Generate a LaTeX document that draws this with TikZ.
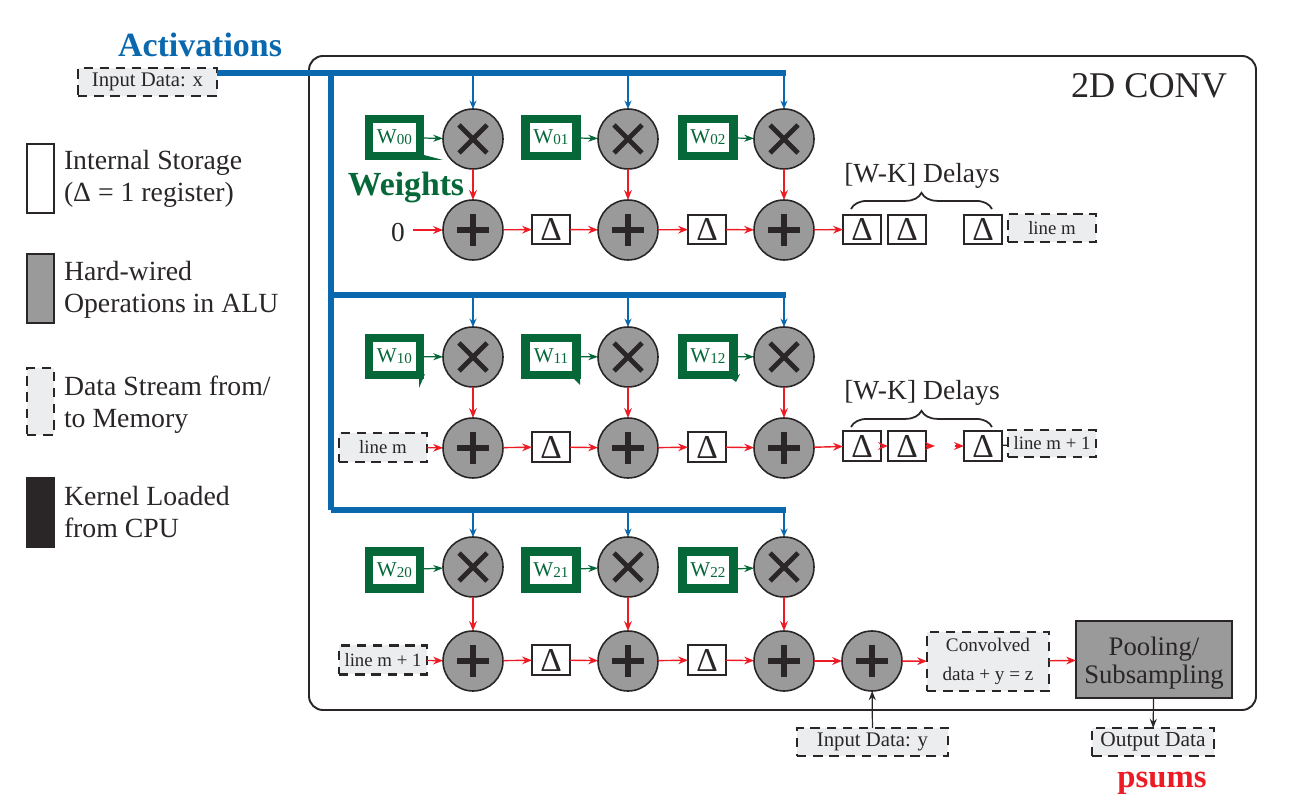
\documentclass[tikz,border=0pt]{standalone}
\usepackage{fontspec}
\setmainfont{Liberation Serif}
\usepackage{xcolor}
\usetikzlibrary{arrows.meta,decorations.pathreplacing}

\definecolor{busblue}{HTML}{0A68AE}
\definecolor{wgreen}{HTML}{066839}
\definecolor{wirered}{HTML}{ED1C24}
\definecolor{inkdark}{HTML}{2A2627}
\definecolor{alugray}{HTML}{9A9A9B}
\definecolor{streamgray}{HTML}{ECEDEF}

\tikzset{
    every node/.style={inner sep=0pt, outer sep=0pt, text=inkdark},
    opnode/.style={circle, draw=inkdark, line width=0.45pt, fill=alugray, minimum size=0.6cm},
    multnode/.style={opnode, path picture={
        \draw[inkdark, line width=1.4pt] ([shift={(-.14,-.14)}]path picture bounding box.center) -- ([shift={(.14,.14)}]path picture bounding box.center);
        \draw[inkdark, line width=1.4pt] ([shift={(-.14,.14)}]path picture bounding box.center) -- ([shift={(.14,-.14)}]path picture bounding box.center);}},
    addnode/.style={opnode, path picture={
        \draw[inkdark, line width=1.5pt] ([xshift=-.16cm]path picture bounding box.center) -- ([xshift=.16cm]path picture bounding box.center);
        \draw[inkdark, line width=1.5pt] ([yshift=-.16cm]path picture bounding box.center) -- ([yshift=.16cm]path picture bounding box.center);}},
    weightbox/.style={draw=wgreen, line width=2.3pt, fill=white, minimum width=0.51cm, minimum height=0.37cm, text=wgreen, font=\fontsize{6}{6}\selectfont},
    regbox/.style={draw=inkdark, line width=0.6pt, fill=white, minimum width=0.38cm, minimum height=0.295cm, font=\fontsize{9.5}{9.5}\selectfont},
    streambox/.style={draw=inkdark, fill=streamgray, line width=0.65pt, dash pattern=on 2.7pt off 1.9pt, font=\fontsize{5.9}{7.4}\selectfont, align=center},
    linefont/.style={font=\fontsize{5.35}{7}\selectfont},
    legendtext/.style={anchor=west, align=left, font=\fontsize{7.9}{9.1}\selectfont},
    bus/.style={busblue, line width=1.45pt},
    busarrow/.style={busblue, line width=0.35pt, -{Stealth[length=2.4pt,width=2pt]}},
    weightarrow/.style={wgreen, line width=0.35pt, -{Stealth[length=2.8pt,width=2pt]}},
    redarrow/.style={wirered, line width=0.4pt, -{Stealth[length=2.8pt,width=2.2pt]}},
    inkarrow/.style={inkdark, line width=0.35pt, -{Stealth[length=2.6pt,width=2pt]}},
    delaybrace/.style={inkdark, line width=0.5pt, decorate, decoration={brace, amplitude=4.6pt}}
}
\newcommand{\wlabel}[2]{W\raisebox{-0.3pt}{\fontsize{4.3}{4.3}\selectfont #1#2}}

\begin{document}
\begin{tikzpicture}
    \useasboundingbox (0,0) rectangle (13.16,8.11);

    % Outer frame
    \draw[inkdark, line width=0.55pt, rounded corners=0.14cm] (3.09,1.01) rectangle (12.56,7.55);
    \node[font=\fontsize{10.3}{10.3}\selectfont] (convtitle) at (11.49,7.25) {2D CONV};

    % Legend
    \node[draw=inkdark, line width=0.5pt, fill=white, minimum width=0.27cm, minimum height=0.69cm] (legstore) at (0.405,6.325) {};
    \node[legendtext] (legstoretext) at (0.64,6.32) {Internal Storage\\(Δ = 1 register)};
    \node[draw=inkdark, line width=0.5pt, fill=alugray, minimum width=0.27cm, minimum height=0.69cm] (legalu) at (0.405,5.225) {};
    \node[legendtext] (legalutext) at (0.64,5.21) {Hard-wired\\Operations in ALU};
    \node[streambox, minimum width=0.27cm, minimum height=0.67cm] (legstream) at (0.405,4.095) {};
    \node[legendtext] (legstreamtext) at (0.64,4.06) {Data Stream from/\\to Memory};
    \node[draw=inkdark, line width=0.5pt, fill=inkdark, minimum width=0.27cm, minimum height=0.69cm] (legkernel) at (0.405,2.985) {};
    \node[legendtext] (legkerneltext) at (0.64,2.99) {Kernel Loaded\\from CPU};

    % Input and activation bus
    \node[text=busblue, font=\bfseries\fontsize{9.65}{9.65}\selectfont] (activations) at (2.00,7.66) {Activations};
    \node[streambox, minimum width=1.39cm, minimum height=0.28cm] (inputx) at (1.475,7.29) {\raisebox{-1pt}{Input Data: x}};
    \coordinate (bustop) at (7.86,7.38);
    \coordinate (trunktop) at (3.31,7.38);
    \coordinate (trunkbot) at (3.31,3.01);
    \coordinate (busmid) at (7.86,5.16);
    \coordinate (busbot) at (7.86,3.01);
    \draw[bus] (inputx.east |- bustop) -- (bustop);
    \draw[bus] (trunktop) -- (trunkbot);
    \draw[bus] (trunkbot |- busmid) -- (busmid);
    \draw[bus] (trunkbot) -- (busbot);

    % First row
    \node[multnode] (m00) at (4.73,6.72) {};
    \node[multnode] (m01) at (6.28,6.72) {};
    \node[multnode] (m02) at (7.84,6.72) {};
    \fill[wgreen] (4.24,6.56) -- (4.43,6.51) -- (4.24,6.51) -- cycle;
    \node[weightbox] (w00) at (3.945,6.735) {\wlabel{0}{0}};
    \node[weightbox] (w01) at (5.51,6.735) {\wlabel{0}{1}};
    \node[weightbox] (w02) at (7.08,6.735) {\wlabel{0}{2}};
    \node[text=wgreen, font=\bfseries\fontsize{9.6}{9.6}\selectfont] (weights) at (4.06,6.23) {Weights};
    \node[font=\fontsize{7.8}{7.8}\selectfont] (zero) at (3.98,5.78) {0};
    \node[addnode] (p00) at (4.73,5.81) {};
    \node[regbox] (r00) at (5.51,5.815) {Δ};
    \node[addnode] (p01) at (6.28,5.81) {};
    \node[regbox] (r01) at (7.07,5.815) {Δ};
    \node[addnode] (p02) at (7.84,5.81) {};
    \node[regbox] (t00) at (8.62,5.815) {Δ};
    \node[regbox] (t01) at (9.07,5.815) {Δ};
    \node[regbox] (t02) at (9.83,5.815) {Δ};
    \node[streambox, linefont, minimum width=0.88cm, minimum height=0.28cm] (linem0) at (10.52,5.83) {line m};
    \node[font=\fontsize{7.85}{7.85}\selectfont] (delays0) at (9.22,6.35) {[W-K] Delays};
    \draw[delaybrace] (8.51,6.02) -- (9.92,6.02);

    \draw[busarrow] (m00 |- bustop) -- (m00);
    \draw[busarrow] (m01 |- bustop) -- (m01);
    \draw[busarrow] (m02 |- bustop) -- (m02);
    \draw[weightarrow] (w00) -- (m00);
    \draw[weightarrow] (w01) -- (m01);
    \draw[weightarrow] (w02) -- (m02);
    \draw[redarrow] (m00) -- (p00);
    \draw[redarrow] (m01) -- (p01);
    \draw[redarrow] (m02) -- (p02);
    \draw[redarrow] ([xshift=.08cm,yshift=.03cm]zero.east) -- (p00);
    \draw[redarrow] (p00) -- (r00);
    \draw[redarrow] (r00) -- (p01);
    \draw[redarrow] (p01) -- (r01);
    \draw[redarrow] (r01) -- (p02);
    \draw[redarrow] (p02) -- (t00);

    % Second row
    \node[multnode] (m10) at (4.73,4.54) {};
    \node[multnode] (m11) at (6.28,4.54) {};
    \node[multnode] (m12) at (7.84,4.54) {};
    \fill[wgreen] (4.19,4.32) -- (4.25,4.37) -- (4.19,4.23) -- cycle;
    \fill[wgreen] (5.74,4.32) -- (5.80,4.26) -- (5.80,4.37) -- cycle;
    \fill[wgreen] (7.32,4.32) -- (7.40,4.37) -- (7.36,4.29) -- cycle;
    \node[weightbox] (w10) at (3.945,4.545) {\wlabel{1}{0}};
    \node[weightbox] (w11) at (5.51,4.545) {\wlabel{1}{1}};
    \node[weightbox] (w12) at (7.08,4.545) {\wlabel{1}{2}};
    \node[streambox, linefont, minimum width=0.88cm, minimum height=0.29cm] (linem1) at (3.83,3.635) {line m};
    \node[addnode] (p10) at (4.73,3.63) {};
    \node[regbox] (r10) at (5.51,3.64) {Δ};
    \node[addnode] (p11) at (6.28,3.63) {};
    \node[regbox] (r11) at (7.07,3.64) {Δ};
    \node[addnode] (p12) at (7.84,3.63) {};
    \node[regbox] (t10) at (8.62,3.65) {Δ};
    \node[regbox] (t11) at (9.07,3.65) {Δ};
    \node[regbox] (t12) at (9.83,3.65) {Δ};
    \node[streambox, linefont, minimum width=0.88cm, minimum height=0.27cm] (linemp0) at (10.52,3.675) {line m + 1};
    \node[font=\fontsize{7.85}{7.85}\selectfont] (delays1) at (9.22,4.18) {[W-K] Delays};
    \draw[delaybrace] (8.51,3.84) -- (9.92,3.84);
    \coordinate (gapleft) at (9.35,3.65);
    \coordinate (gapright) at (9.55,3.65);

    \draw[busarrow] (m10 |- busmid) -- (m10);
    \draw[busarrow] (m11 |- busmid) -- (m11);
    \draw[busarrow] (m12 |- busmid) -- (m12);
    \draw[weightarrow] (w10) -- (m10);
    \draw[weightarrow] (w11) -- (m11);
    \draw[weightarrow] (w12) -- (m12);
    \draw[redarrow] (m10) -- (p10);
    \draw[redarrow] (m11) -- (p11);
    \draw[redarrow] (m12) -- (p12);
    \draw[redarrow] (linem1) -- (p10);
    \draw[redarrow] (p10) -- (r10);
    \draw[redarrow] (r10) -- (p11);
    \draw[redarrow] (p11) -- (r11);
    \draw[redarrow] (r11) -- (p12);
    \draw[redarrow] (p12) -- (t10);
    \draw[redarrow] (t10) -- (t11);
    \draw[redarrow] (t11) -- (gapleft);
    \draw[redarrow] (gapright) -- (t12);
    \draw[inkdark, line width=0.35pt] (t12) -- (linemp0);

    % Third row
    \node[multnode] (m20) at (4.73,2.44) {};
    \node[multnode] (m21) at (6.28,2.44) {};
    \node[multnode] (m22) at (7.84,2.44) {};
    \node[weightbox] (w20) at (3.945,2.41) {\wlabel{2}{0}};
    \node[weightbox] (w21) at (5.51,2.41) {\wlabel{2}{1}};
    \node[weightbox] (w22) at (7.08,2.41) {\wlabel{2}{2}};
    \node[streambox, linefont, minimum width=0.88cm, minimum height=0.29cm] (linemp1) at (3.83,1.51) {line m + 1};
    \node[addnode] (p20) at (4.73,1.50) {};
    \node[regbox] (r20) at (5.51,1.51) {Δ};
    \node[addnode] (p21) at (6.28,1.50) {};
    \node[regbox] (r21) at (7.07,1.51) {Δ};
    \node[addnode] (p22) at (7.84,1.50) {};
    \node[addnode] (p23) at (8.72,1.50) {};
    \node[streambox, font=\fontsize{5.45}{8.2}\selectfont, minimum width=1.22cm, minimum height=0.59cm] (convolved) at (9.88,1.495) {Convolved\\data + y = z};
    \node[draw=inkdark, line width=0.6pt, fill=alugray, minimum width=1.56cm, minimum height=0.77cm, align=center, font=\fontsize{7.6}{8}\selectfont] (pooling) at (11.54,1.515) {\rule{0pt}{7.5pt}Pooling/\\Subsampling};
    \node[streambox, minimum width=1.51cm, minimum height=0.28cm] (inputy) at (8.725,0.69) {Input Data: y};
    \node[streambox, font=\fontsize{6.1}{7.4}\selectfont, minimum width=1.22cm, minimum height=0.28cm] (outdata) at (11.53,0.69) {Output Data};
    \node[text=wirered, font=\bfseries\fontsize{9.3}{9.3}\selectfont] (psums) at (11.62,0.28) {psums};

    \draw[busarrow] (m20 |- busbot) -- (m20);
    \draw[busarrow] (m21 |- busbot) -- (m21);
    \draw[busarrow] (m22 |- busbot) -- (m22);
    \draw[weightarrow] (w20) -- (m20);
    \draw[weightarrow] (w21) -- (m21);
    \draw[weightarrow] (w22) -- (m22);
    \draw[redarrow] (m20) -- (p20);
    \draw[redarrow] (m21) -- (p21);
    \draw[redarrow] (m22) -- (p22);
    \draw[redarrow] (linemp1) -- (p20);
    \draw[redarrow] (p20) -- (r20);
    \draw[redarrow] (r20) -- (p21);
    \draw[redarrow] (p21) -- (r21);
    \draw[redarrow] (r21) -- (p22);
    \draw[redarrow] (p22) -- (p23);
    \draw[redarrow] (p23) -- (convolved);
    \draw[redarrow] (convolved) -- (pooling);
    \draw[inkarrow] (inputy) -- (p23);
    \draw[inkarrow] (pooling) -- (outdata);
\end{tikzpicture}
\end{document}
